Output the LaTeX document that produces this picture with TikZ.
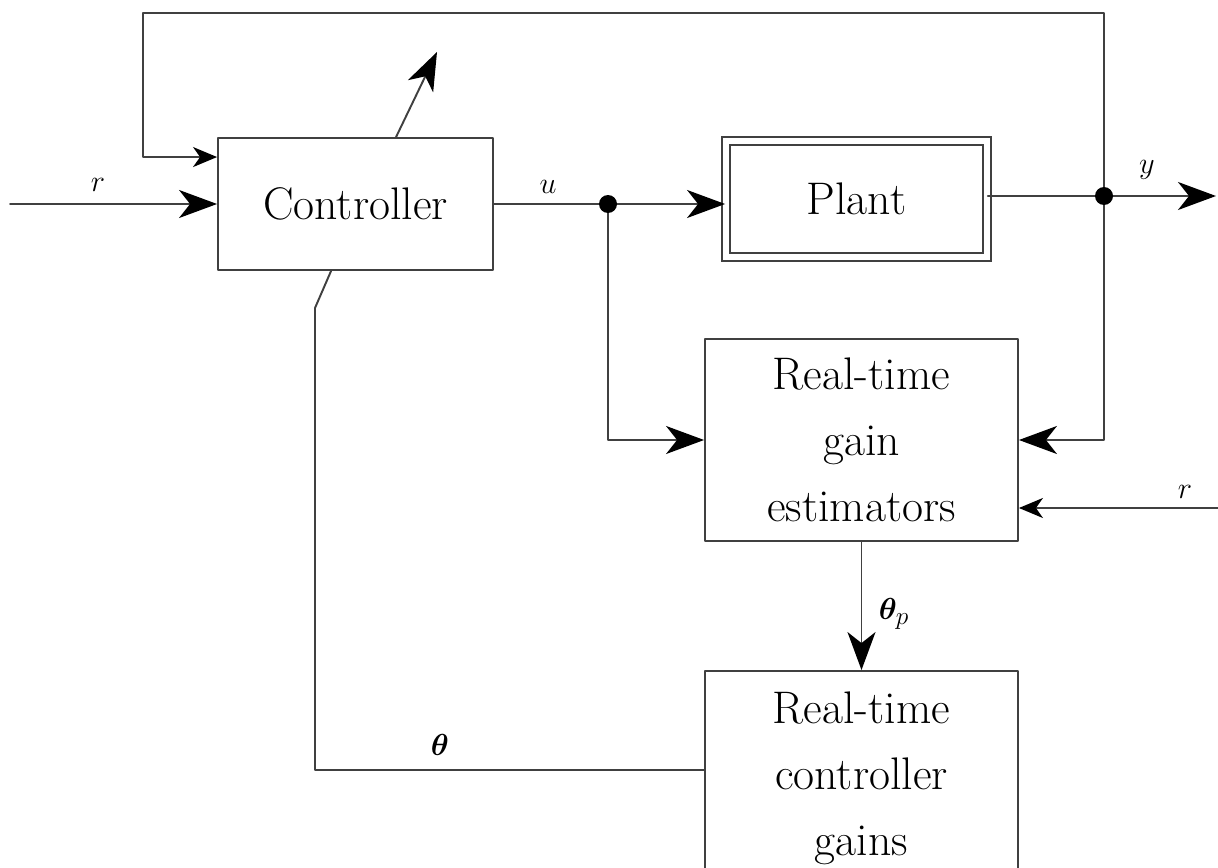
\documentclass[tikz,border=0pt]{standalone}
\usepackage{amsmath}
\usepackage{amssymb}
\usepackage{bm}
\usetikzlibrary{arrows.meta}

\tikzset{
  blk/.style={draw=black!75,line width=1.1pt,align=center,font=\fontsize{26}{37.5}\selectfont},
  sig/.style={draw=black!75,line width=1.1pt},
  bigtip/.style={-{Stealth[length=0.76cm,width=0.56cm,inset=0.22cm,color=black]}},
  smalltip/.style={-{Stealth[length=0.48cm,width=0.4cm,inset=0.14cm,color=black]}},
  lbl/.style={font=\fontsize{19}{22}\selectfont}
}

\begin{document}
\begin{tikzpicture}[line cap=round,line join=round,x=0.02cm,y=-0.02cm]
\useasboundingbox (0,0) rectangle (1218,868);
\clip (0,0) rectangle (1218,868);

\node[blk,minimum width=5.5cm,minimum height=2.64cm] (ctrl) at (355.5,204) {Controller};
\node[blk,line join=miter,double,double distance=0.12cm,minimum width=5.22cm,minimum height=2.32cm] (plant) at (856.5,199) {Plant};
\node[blk,minimum width=6.26cm,minimum height=4.04cm] (est) at (861.5,440) {Real-time\\gain\\estimators};
\node[blk,minimum width=6.26cm,minimum height=4.28cm] (gains) at (861.5,778) {Real-time\\controller\\gains};

\coordinate (rin) at (10,204);
\coordinate (udot) at (608,204);
\coordinate (ydot) at (1104,196);
\coordinate (yout) at (1216,196);
\coordinate (rin2) at (1218,508);
\coordinate (tl) at (143,13);
\coordinate (thb) at (315,770);
\coordinate (thk) at (315,308);
\coordinate (adapt) at (437,52);
\path (ctrl.north west) ++(0,20) coordinate (fbin);
\path (ctrl.north west) ++(179,0) coordinate (cout);
\path (ctrl.south west) ++(114,0) coordinate (cin);

\draw[sig,bigtip] (rin) -- (ctrl.west);
\draw[sig,smalltip] (ydot) |- (tl) |- (fbin);
\draw[sig,bigtip] (cout) -- (adapt);
\draw[sig] (ctrl.east |- udot) -- (udot);
\draw[sig,bigtip] (udot) -- (plant.west |- udot);
\draw[sig,bigtip] (udot) |- (est.west);
\draw[sig] (plant.east |- ydot) -- (ydot);
\draw[sig,bigtip] (ydot) -- (yout);
\draw[sig,bigtip] (ydot) |- (est.east);
\draw[sig,smalltip] (rin2) -- (est.east |- rin2);
\draw[sig,bigtip] (est.south) -- (gains.north);
\draw[sig] (gains.west |- thb) -- (thb) -- (thk) -- (cin);

\fill[black] (udot) circle (0.18cm);
\fill[black] (ydot) circle (0.18cm);

\node[lbl] (lr) at (98,185) {$r$};
\node[lbl] (lu) at (548,187) {$u$};
\node[lbl] (ly) at (1147,170) {$y$};
\node[lbl] (lr2) at (1185,492) {$r$};
\node[lbl] (lthp) at (894,614) {$\bm{\theta}_{p}$};
\node[lbl] (lth) at (440,745) {$\bm{\theta}$};
\end{tikzpicture}
\end{document}
